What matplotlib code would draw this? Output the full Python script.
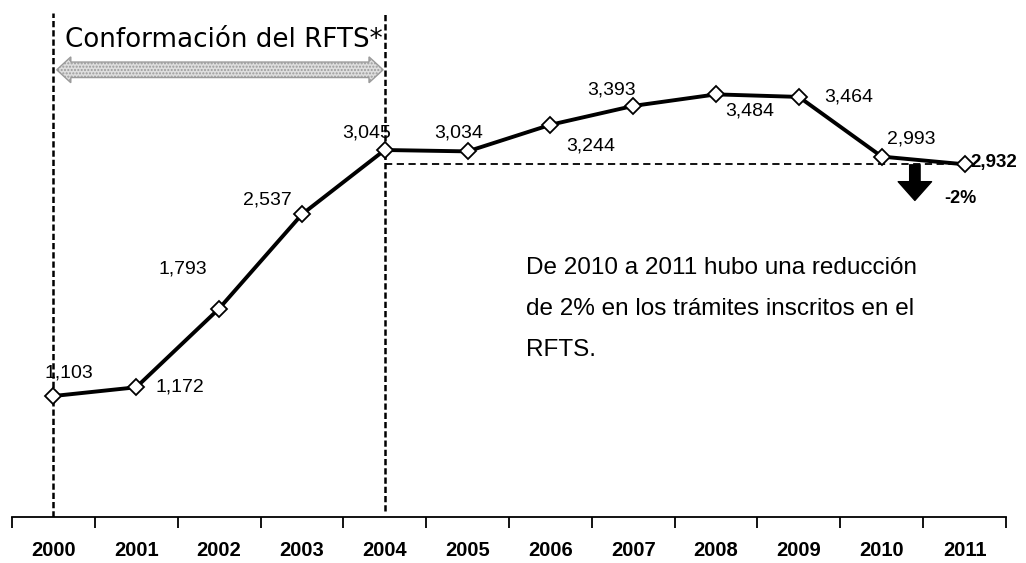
import matplotlib
matplotlib.use("Agg")
import matplotlib.pyplot as plt
import matplotlib.patches as mpatches
import matplotlib.transforms as mtransforms

years = ['2000', '2001', '2002', '2003', '2004', '2005',
         '2006', '2007', '2008', '2009', '2010', '2011']
tramites = [1103, 1172, 1793, 2537, 3045, 3034, 3244, 3393, 3484, 3464, 2993, 2932]
labels = ['1,103', '1,172', '1,793', '2,537', '3,045', '3,034',
          '3,244', '3,393', '3,484', '3,464', '2,993', '2,932']

# label offsets in pixels (dx, dy) from each point
offsets = [(15, 23), (44, 0), (-36, 40), (-35, 14), (-18, 17), (-9, 18),
           (40, -21), (-22, 16), (34, -17), (50, 0), (30, 18), (6, 2)]

fig = plt.figure(figsize=(10.26, 5.63), dpi=100)
ax = fig.add_axes([0.0117, 0.0817, 0.9688, 0.9183])

x = list(range(len(years)))
ax.plot(x, tramites, color='black', lw=2.8, marker='D', ms=8,
        mfc='white', mec='black', mew=1.3, zorder=5)

for i, (lab, (dx, dy)) in enumerate(zip(labels, offsets)):
    last = i == len(years) - 1
    ax.annotate(lab, (x[i], tramites[i]), xytext=(dx, dy), textcoords='offset pixels',
                ha='left' if last else 'center', va='center',
                fontsize=13.5 if last else 14, family='Liberation Sans',
                fontweight='bold' if last else 'normal')

ax.set_xlim(-0.5, len(years) - 0.5)
ax.set_ylim(148, 4229)

# period lines and reference line
ax.axvline(0, ymin=0, ymax=0.975, color='black', lw=1.8, ls=(0, (2.5, 1.2)), zorder=3)
ax.axvline(4, ymin=0.012, ymax=0.975, color='black', lw=1.8, ls=(0, (2.5, 1.2)), zorder=3)
ax.plot([4, 11], [tramites[-1], tramites[-1]], color='black', lw=1.3,
        ls=(0, (4, 2.5)), zorder=2)

# double-headed arrow under the title
tr = mtransforms.blended_transform_factory(ax.transData, ax.transAxes)
x0, x1, yc = 0.04, 3.98, 0.865
hl, hw, sw = 0.17, 0.025, 0.015
arrow = mpatches.Polygon([(x0, yc), (x0 + hl, yc + hw), (x0 + hl, yc + sw),
                          (x1 - hl, yc + sw), (x1 - hl, yc + hw), (x1, yc),
                          (x1 - hl, yc - hw), (x1 - hl, yc - sw), (x0 + hl, yc - sw),
                          (x0 + hl, yc - hw)], closed=True, transform=tr,
                         fc='#dedede', ec='#9a9a9a', lw=1.0, hatch='.....', zorder=4)
ax.add_patch(arrow)
ax.text(0.14, 0.923, 'Conformación del RFTS*', transform=tr, fontsize=18.8,
        family='DejaVu Sans', ha='left', va='center')

# reduction arrow
ax.annotate('', xy=(10.4, 2625), xytext=(10.4, 2950),
            arrowprops=dict(arrowstyle='simple,head_length=0.9,head_width=1.6,tail_width=0.5',
                            fc='black', ec='black', mutation_scale=15))
ax.text(10.76, 2666, '-2%', fontsize=13, fontweight='bold',
        family='Liberation Sans', ha='left', va='center')

ax.text(5.7, 0.503, 'De 2010 a 2011 hubo una reducción\nde 2% en los trámites inscritos en el\nRFTS.',
        transform=tr, fontsize=17.5, family='Liberation Sans', ha='left', va='top',
        linespacing=2.12)

for s in ['top', 'right', 'left']:
    ax.spines[s].set_visible(False)
ax.spines['bottom'].set_linewidth(1.3)
ax.set_yticks([])
ax.set_xticks(x)
ax.set_xticklabels(years, fontsize=14.5, fontweight='bold', family='Liberation Sans')
ax.tick_params(axis='x', which='major', length=0, pad=17)
ax.set_xticks([i - 0.5 for i in range(len(years) + 1)], minor=True)
ax.tick_params(axis='x', which='minor', length=8, width=1.3, direction='out')

fig.savefig('out.png', dpi=100)
